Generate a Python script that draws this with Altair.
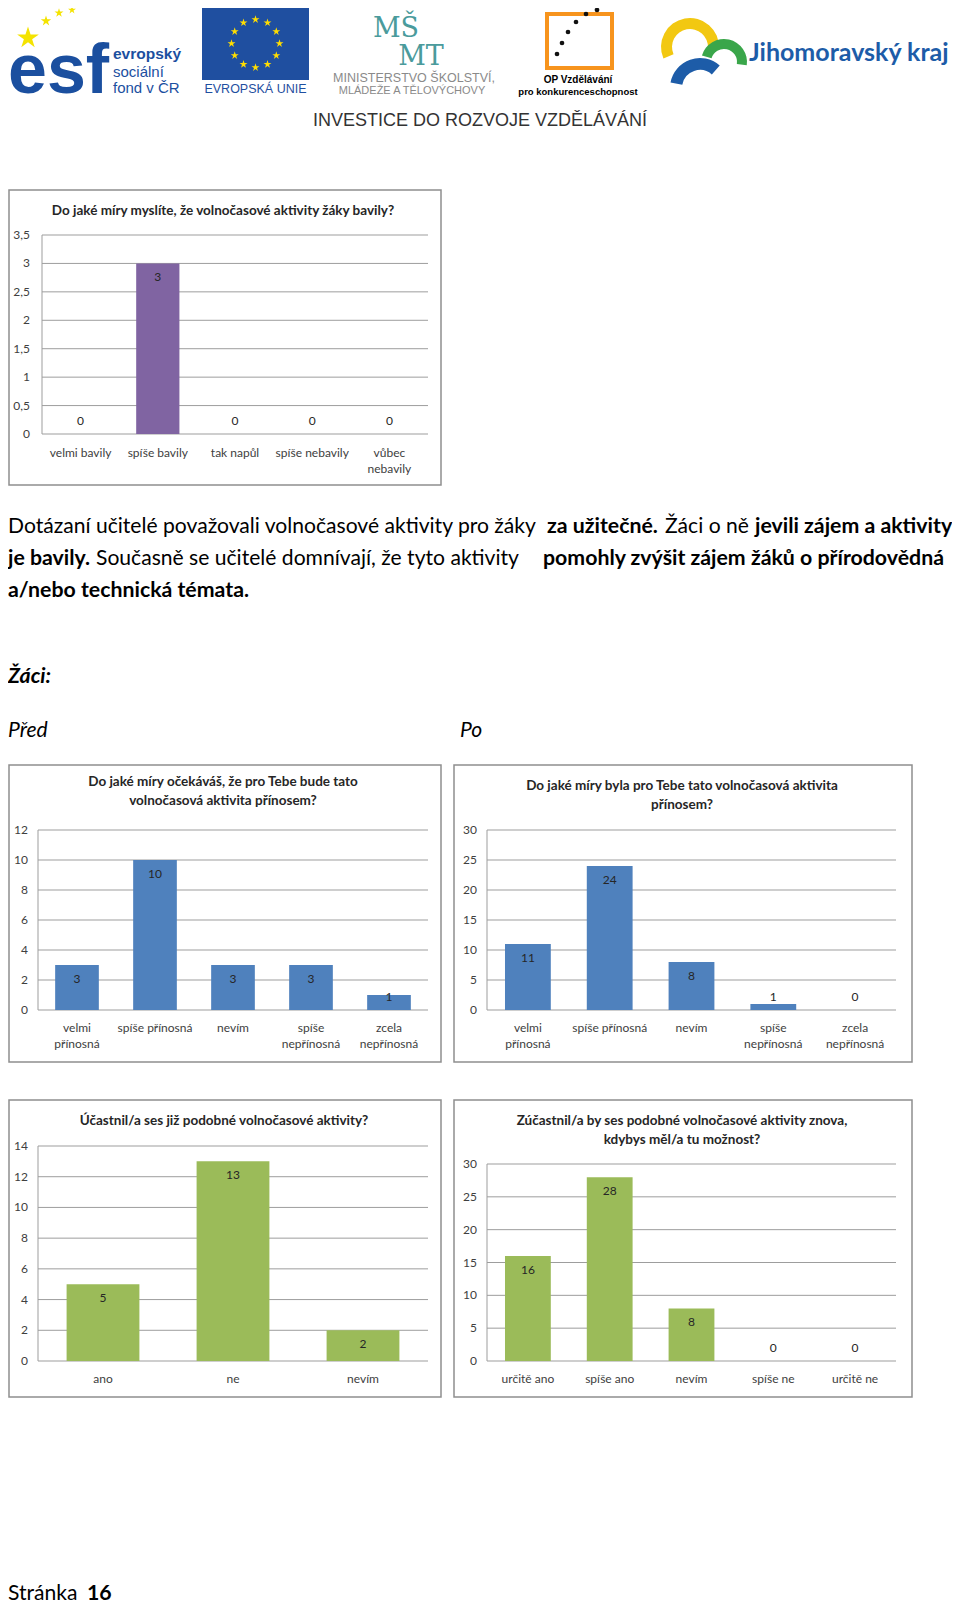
import altair as alt
import pandas as pd

M = 8                      # page margin of the html body
W, H = 944, 1597
CF = "Lato"                # chart font
BF = "Lato"                # body font
ONE = pd.DataFrame({"k": [0]})

# ---------------- data ----------------
ucitele_title = "Do jaké míry myslíte, že volnočasové aktivity žáky bavily?"
ucitele_cats = ["velmi bavily", "spíše bavily", "tak napůl", "spíše nebavily", "vůbec\nnebavily"]
ucitele_vals = [0, 3, 0, 0, 0]
ucitele_ticks = [0, 0.5, 1, 1.5, 2, 2.5, 3, 3.5]
ucitele_tick_labels = ["0", "0,5", "1", "1,5", "2", "2,5", "3", "3,5"]

prinos_cats = ["velmi\npřínosná", "spíše přínosná", "nevím", "spíše\nnepřínosná", "zcela\nnepřínosná"]

pred_title = "Do jaké míry očekáváš, že pro Tebe bude tato\nvolnočasová aktivita přínosem?"
pred_vals = [3, 10, 3, 3, 1]
pred_ticks = [0, 2, 4, 6, 8, 10, 12]

po_title = "Do jaké míry byla pro Tebe tato volnočasová aktivita\npřínosem?"
po_vals = [11, 24, 8, 1, 0]
po_ticks = [0, 5, 10, 15, 20, 25, 30]

ucast_title = "Účastnil/a ses již podobné volnočasové aktivity?"
ucast_cats = ["ano", "ne", "nevím"]
ucast_vals = [5, 13, 2]
ucast_ticks = [0, 2, 4, 6, 8, 10, 12, 14]

znova_title = "Zúčastnil/a by ses podobné volnočasové aktivity znova,\nkdybys měl/a tu možnost?"
znova_cats = ["určitě ano", "spíše ano", "nevím", "spíše ne", "určitě ne"]
znova_vals = [16, 28, 8, 0, 0]
znova_ticks = [0, 5, 10, 15, 20, 25, 30]

body_line1 = ["Dotázaní učitelé považovali volnočasové aktivity pro žáky", "za užitečné.", "Žáci o ně", "jevili zájem a aktivity"]
body_line2 = ["je bavily.", "Současně se učitelé domnívají, že tyto aktivity", "pomohly zvýšit zájem žáků o přírodovědná"]
body_line3 = ["a/nebo technická témata."]
heading = "Žáci:"
before_label = "Před"
after_label = "Po"
footer = ["Stránka", "16"]

eu_star_angles = [0, 30, 60, 90, 120, 150, 180, 210, 240, 270, 300, 330]

PURPLE = "#8064A2"
BLUE = "#4F81BD"
GREEN = "#9BBB59"
STAR = "M0,-1L0.2245,-0.309L0.951,-0.309L0.363,0.118L0.588,0.809L0,0.382L-0.588,0.809L-0.363,0.118L-0.951,-0.309L-0.2245,-0.309Z"


def txt(s, x, y, size, weight="normal", style="normal", color="#000000",
        align="left", baseline="middle", font=BF):
    return alt.Chart(ONE).mark_text(
        text=s, fontSize=size, fontWeight=weight, fontStyle=style, color=color,
        align=align, baseline=baseline, font=font, lineBreak="\n"
    ).encode(x=alt.value(x - M), y=alt.value(y - M))


def panel(cats, vals, ticks, tick_labels, color, box, plot, label_right,
          title, title_cx, title_top, cat_top, ymax):
    bx0, by0, bx1, by1 = box
    px0, pytop, px1, pybot = plot
    df = pd.DataFrame({"cat": cats, "v": vals})
    tdf = pd.DataFrame({"t": ticks, "lab": tick_labels})
    xs = alt.Scale(domain=cats, range=[px0 - M, px1 - M], paddingInner=0.44, paddingOuter=0.22)
    ys = alt.Scale(domain=[0, ymax], range=[pybot - M, pytop - M], nice=False, zero=True)
    X = alt.X("cat:N", scale=xs, axis=None, sort=cats)
    Y = alt.Y("v:Q", scale=ys, axis=None)

    frame = alt.Chart(ONE).mark_rect(fill="white", stroke="#8f8f8f", strokeWidth=1.5).encode(
        x=alt.value(bx0 - M), x2=alt.value(bx1 - M), y=alt.value(by0 - M), y2=alt.value(by1 - M))
    grid = alt.Chart(tdf).mark_rule(color="#9d9d9d", strokeWidth=1).encode(
        y=alt.Y("t:Q", scale=ys, axis=None), x=alt.value(px0 - M), x2=alt.value(px1 - M))
    vline = alt.Chart(ONE).mark_rule(color="#9d9d9d", strokeWidth=1).encode(
        x=alt.value(px0 - M), y=alt.value(pytop - M), y2=alt.value(pybot - M))
    tlabels = alt.Chart(tdf).mark_text(align="right", baseline="middle", font=CF,
                                       fontSize=12, color="#404040").encode(
        y=alt.Y("t:Q", scale=ys, axis=None), x=alt.value(label_right - M), text="lab:N")
    bars = alt.Chart(df).mark_bar(color=color).encode(x=X, y=Y)
    inside = alt.Chart(df).transform_filter(f"datum.v / {ymax} >= 0.12").mark_text(
        dy=14, baseline="middle", font=CF, fontSize=12, color="#262626").encode(
        x=X, y=Y, text="v:Q")
    outside = alt.Chart(df).transform_filter(f"datum.v / {ymax} < 0.12").transform_calculate(
        z="0").mark_text(dy=-13, baseline="middle", font=CF, fontSize=12, color="#262626").encode(
        x=X, y=alt.Y("z:Q", scale=ys, axis=None), text="v:Q")
    clabels = alt.Chart(df).mark_text(baseline="top", font=CF, fontSize=12, color="#404040",
                                      lineBreak="\n", lineHeight=16).encode(
        x=X, y=alt.value(cat_top - M), text="cat:N")
    ttl = alt.Chart(ONE).mark_text(text=title, baseline="top", align="center", font=CF,
                                   fontSize=13.5, fontWeight="bold", color="#262626",
                                   lineBreak="\n", lineHeight=19).encode(
        x=alt.value(title_cx - M), y=alt.value(title_top - M))
    return alt.layer(frame, grid, vline, tlabels, bars, inside, outside, clabels, ttl)


# ---------------- header logos ----------------
header = []
# ESF
header.append(txt("esf", 8, 93, 70, weight="bold", color="#1b4f9f", baseline="alphabetic",
                  font="Liberation Sans"))
for (sx, sy, sz) in [(28, 38, 520), (46, 21, 120), (59, 13, 90), (72, 10, 70)]:
    header.append(alt.Chart(ONE).mark_point(shape=STAR, filled=True, color="#f4e300", size=sz,
                                            opacity=1).encode(x=alt.value(sx - M), y=alt.value(sy - M)))
header.append(txt("evropský", 113, 54, 15.5, weight="bold", color="#1b4f9f", font="Liberation Sans"))
header.append(txt("sociální", 113, 72, 15, color="#1b4f9f", font="Liberation Sans"))
header.append(txt("fond v ČR", 113, 88, 15, color="#1b4f9f", font="Liberation Sans"))
# EU flag
header.append(alt.Chart(ONE).mark_rect(fill="#1f4fa0").encode(
    x=alt.value(202 - M), x2=alt.value(309 - M), y=alt.value(8 - M), y2=alt.value(80 - M)))
eu = pd.DataFrame({"a": eu_star_angles})
header.append(alt.Chart(eu).transform_calculate(
    px=f"{255.5 - M} + 24*sin(datum.a*PI/180)", py=f"{43.5 - M} - 24*cos(datum.a*PI/180)"
).mark_point(shape=STAR, filled=True, color="#ffdd00", size=70, opacity=1).encode(
    x=alt.X("px:Q", scale=None), y=alt.Y("py:Q", scale=None)))
header.append(txt("EVROPSKÁ UNIE", 255.5, 89, 12.5, color="#1f4fa0", align="center",
                  font="Liberation Sans"))
# MSMT
header.append(txt("MŠ", 396, 37, 27, color="#4a9b9c", align="center", baseline="alphabetic",
                  font="DejaVu Serif"))
header.append(txt("MT", 421, 65, 27, color="#4a9b9c", align="center", baseline="alphabetic",
                  font="DejaVu Serif"))
header.append(txt("MINISTERSTVO ŠKOLSTVÍ,", 414, 78, 12.5, color="#8a8a8a", align="center",
                  font="Liberation Sans"))
header.append(txt("MLÁDEŽE A TĚLOVÝCHOVY", 412, 91, 11, color="#8a8a8a", align="center",
                  font="Liberation Sans"))
# OP
header.append(alt.Chart(ONE).mark_rect(fill=None, stroke="#f7941d", strokeWidth=4).encode(
    x=alt.value(547 - M), x2=alt.value(612 - M), y=alt.value(14 - M), y2=alt.value(68 - M)))
for (dx, dy) in [(557, 54), (562, 43), (568, 32), (576, 22), (586, 14), (597, 10)]:
    header.append(alt.Chart(ONE).mark_circle(color="#111111", size=22, opacity=1).encode(
        x=alt.value(dx - M), y=alt.value(dy - M)))
header.append(txt("OP Vzdělávání", 578, 80, 10, weight="bold", align="center", font="Liberation Sans"))
header.append(txt("pro konkurenceschopnost", 578, 92, 9.5, weight="bold", align="center",
                  font="Liberation Sans"))
# Jihomoravsky kraj
for (cx, cy, r0, r1, t0, t1, col) in [(690, 47, 18, 29, 4.3, 7.9, "#f2c811"),
                                     (724, 62, 13, 23, 5.0, 8.0, "#3aa64a"),
                                     (700, 88, 18, 30, 4.9, 7.0, "#1d5ca8")]:
    header.append(alt.Chart(ONE).mark_arc(innerRadius=r0, outerRadius=r1, theta=t0, theta2=t1,
                                          color=col).encode(x=alt.value(cx - M), y=alt.value(cy - M)))
header.append(txt("Jihomoravský kraj", 749, 53, 25, weight="bold", color="#1d5ca8"))
header.append(txt("INVESTICE DO ROZVOJE VZDĚLÁVÁNÍ", 480, 121, 18, color="#333333", align="center",
                  font="Liberation Sans"))

# ---------------- body text ----------------
BR = 21.1   # regular
BB = 21.3   # bold
L = 8
body = [
    txt(body_line1[0], L, 527, BR), txt(body_line1[1], 547, 527, BB, weight="bold"),
    txt(body_line1[2], 665, 527, BR), txt(body_line1[3], 755, 527, BB, weight="bold"),
    txt(body_line2[0], L, 559, BB, weight="bold"), txt(body_line2[1], 96, 559, BR),
    txt(body_line2[2], 543, 559, BB, weight="bold"),
    txt(body_line3[0], L, 591, BB, weight="bold"),
    txt(heading, L, 677, BB, weight="bold", style="italic"),
    txt(before_label, L, 731, BR, style="italic"),
    txt(after_label, 460, 731, BR, style="italic"),
    txt(footer[0], L, 1594, BR), txt(footer[1], 87, 1594, BB, weight="bold"),
]

# ---------------- charts ----------------
p1 = panel(ucitele_cats, ucitele_vals, ucitele_ticks, ucitele_tick_labels, PURPLE,
           (9, 190, 441, 485), (42, 235, 428, 434), 30, ucitele_title, 223, 204, 448, 3.5)
p4 = panel(prinos_cats, pred_vals, pred_ticks, [str(t) for t in pred_ticks], BLUE,
           (9, 765, 441, 1062), (38, 830, 428, 1010), 28, pred_title, 223, 775, 1023, 12)
p5 = panel(prinos_cats, po_vals, po_ticks, [str(t) for t in po_ticks], BLUE,
           (454, 765, 912, 1062), (487, 830, 896, 1010), 477, po_title, 682, 779, 1023, 30)
p6 = panel(ucast_cats, ucast_vals, ucast_ticks, [str(t) for t in ucast_ticks], GREEN,
           (9, 1100, 441, 1397), (38, 1146, 428, 1361), 28, ucast_title, 224, 1114, 1374, 14)
p7 = panel(znova_cats, znova_vals, znova_ticks, [str(t) for t in znova_ticks], GREEN,
           (454, 1100, 912, 1397), (487, 1164, 896, 1361), 477, znova_title, 682, 1114, 1374, 30)

chart = alt.layer(*header, *body, p1, p4, p5, p6, p7).resolve_scale(
    x="independent", y="independent"
).properties(width=W, height=H, autosize="none", padding=0).configure_view(stroke=None)

chart.save("out.html", embed_options={"renderer": "svg", "actions": False})
